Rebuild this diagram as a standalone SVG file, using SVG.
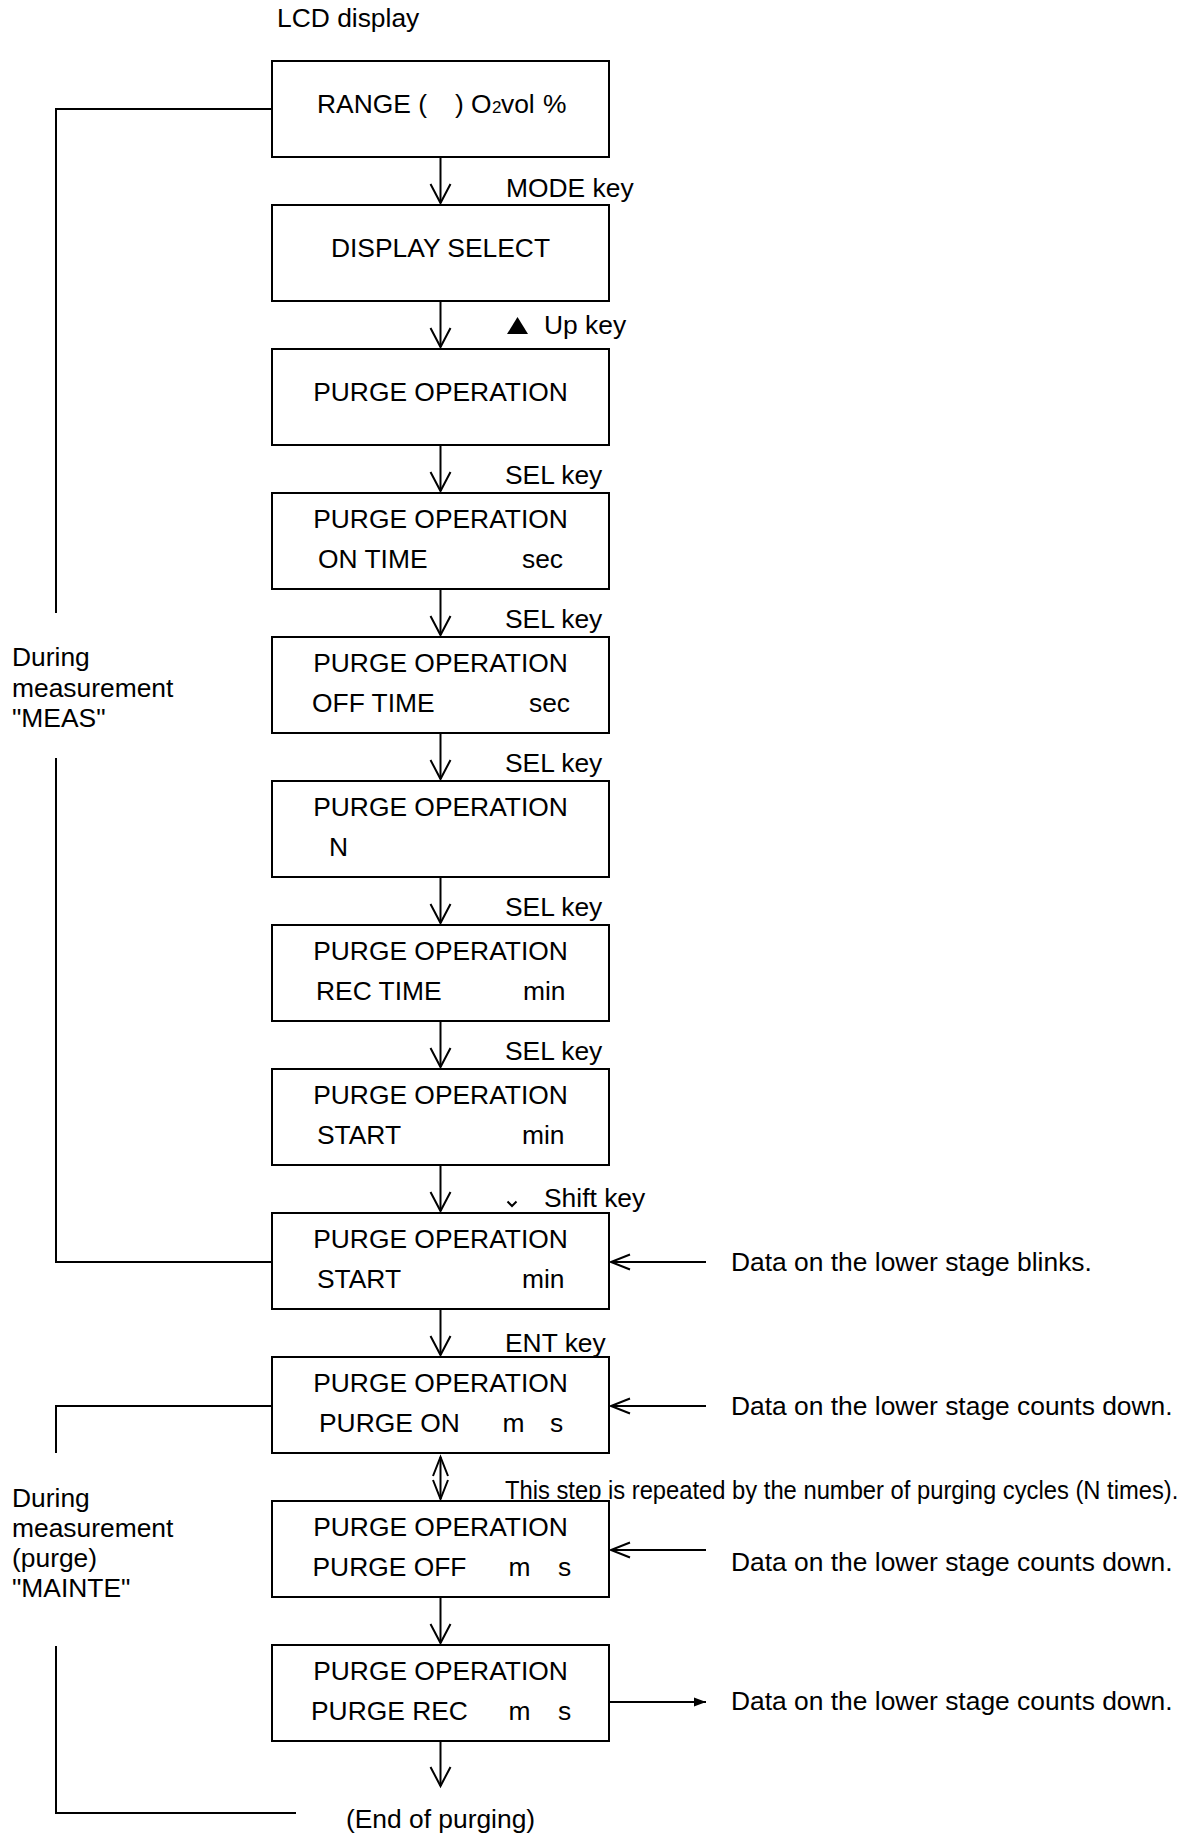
<svg xmlns="http://www.w3.org/2000/svg" width="1188" height="1838" viewBox="0 0 1188 1838">
<style>
text{font-family:"Liberation Sans",Arial,sans-serif;font-size:26.4px;fill:#000}
.box{fill:#fff;stroke:#000;stroke-width:2}
.ln{fill:none;stroke:#000;stroke-width:2}
.mid{text-anchor:middle}
</style>
<defs>
<marker id="open" markerUnits="userSpaceOnUse" viewBox="-2 -2 24 24" markerWidth="24" markerHeight="24" refX="19" refY="10" orient="auto" overflow="visible">
<path d="M0,0 L19,10 L0,20" fill="none" stroke="#000" stroke-width="2"/>
</marker>
<marker id="openS" markerUnits="userSpaceOnUse" viewBox="-2 -2 24 24" markerWidth="24" markerHeight="24" refX="19" refY="7.5" orient="auto-start-reverse" overflow="visible">
<path d="M0,0 L19,7.5 L0,15" fill="none" stroke="#000" stroke-width="2"/>
</marker>
<marker id="fillA" markerUnits="userSpaceOnUse" viewBox="0 0 12 10" markerWidth="12" markerHeight="10" refX="12" refY="4.5" orient="auto" overflow="visible">
<path d="M0,0 L12,4.5 L0,9 Z" fill="#000"/>
</marker>
</defs>
<rect width="1188" height="1838" fill="#fff"/>

<g id="connectors">
<path class="ln" d="M440.5,157 V203" marker-end="url(#open)"/>
<path class="ln" d="M440.5,301 V347" marker-end="url(#open)"/>
<path class="ln" d="M440.5,445 V491" marker-end="url(#open)"/>
<path class="ln" d="M440.5,589 V635" marker-end="url(#open)"/>
<path class="ln" d="M440.5,733 V779" marker-end="url(#open)"/>
<path class="ln" d="M440.5,877 V923" marker-end="url(#open)"/>
<path class="ln" d="M440.5,1021 V1067" marker-end="url(#open)"/>
<path class="ln" d="M440.5,1165 V1211" marker-end="url(#open)"/>
<path class="ln" d="M440.5,1309 V1355" marker-end="url(#open)"/>
<path class="ln" d="M440.5,1457 V1499" marker-start="url(#openS)" marker-end="url(#openS)"/>
<path class="ln" d="M440.5,1597 V1643" marker-end="url(#open)"/>
<path class="ln" d="M440.5,1741 V1786" marker-end="url(#open)"/>
<path class="ln" d="M706,1262 H611" marker-end="url(#openS)"/>
<path class="ln" d="M706,1406 H611" marker-end="url(#openS)"/>
<path class="ln" d="M706,1550 H611" marker-end="url(#openS)"/>
<path class="ln" d="M609,1702 H706" marker-end="url(#fillA)"/>
<path class="ln" d="M272,109 H56 V613"/>
<path class="ln" d="M56,758 V1262 H272"/>
<path class="ln" d="M272,1406 H56 V1453"/>
<path class="ln" d="M56,1646 V1813 H296"/>
</g>

<g id="labels">
<text x="277" y="27">LCD display</text>
<text x="506" y="197">MODE key</text>
<polygon points="507,334 528,334 517.5,317" fill="#000"/>
<text x="544" y="334">Up key</text>
<text x="505" y="483.5">SEL key</text>
<text x="505" y="627.5">SEL key</text>
<text x="505" y="771.5">SEL key</text>
<text x="505" y="915.5">SEL key</text>
<text x="505" y="1059.5">SEL key</text>
<polyline points="507.5,1201.5 512,1206 516.5,1201.5" fill="none" stroke="#000" stroke-width="2"/>
<text x="544" y="1207">Shift key</text>
<text x="505" y="1352">ENT key</text>
<text transform="translate(505,1499) scale(0.9,1)" x="0" y="0">This step is repeated by the number of purging cycles (N times).</text>
<text x="731" y="1271">Data on the lower stage blinks.</text>
<text x="731" y="1415">Data on the lower stage counts down.</text>
<text x="731" y="1571">Data on the lower stage counts down.</text>
<text x="731" y="1710">Data on the lower stage counts down.</text>
<text x="12" y="666">During</text>
<text x="12" y="697">measurement</text>
<text x="12" y="727">"MEAS"</text>
<text x="12" y="1506.5">During</text>
<text x="12" y="1536.5">measurement</text>
<text x="12" y="1566.5">(purge)</text>
<text x="12" y="1597">"MAINTE"</text>
<text x="440.5" y="1828" class="mid">(End of purging)</text>
</g>

<g id="n1"><rect class="box" x="272" y="61" width="337" height="96"/>
<text y="113"><tspan x="317">RANGE (</tspan><tspan x="455">)</tspan><tspan x="471">O</tspan><tspan x="492" font-size="17">2</tspan><tspan x="501">vol</tspan><tspan x="543">%</tspan></text></g>
<g id="n2"><rect class="box" x="272" y="205" width="337" height="96"/>
<text x="440.5" y="257" class="mid">DISPLAY SELECT</text></g>
<g id="n3"><rect class="box" x="272" y="349" width="337" height="96"/>
<text x="440.5" y="401" class="mid">PURGE OPERATION</text></g>
<g id="n4"><rect class="box" x="272" y="493" width="337" height="96"/>
<text x="440.5" y="528" class="mid">PURGE OPERATION</text>
<text x="318" y="568">ON TIME</text><text x="522" y="568">sec</text></g>
<g id="n5"><rect class="box" x="272" y="637" width="337" height="96"/>
<text x="440.5" y="672" class="mid">PURGE OPERATION</text>
<text x="312" y="712">OFF TIME</text><text x="529" y="712">sec</text></g>
<g id="n6"><rect class="box" x="272" y="781" width="337" height="96"/>
<text x="440.5" y="816" class="mid">PURGE OPERATION</text>
<text x="329" y="856">N</text></g>
<g id="n7"><rect class="box" x="272" y="925" width="337" height="96"/>
<text x="440.5" y="960" class="mid">PURGE OPERATION</text>
<text x="316" y="1000">REC TIME</text><text x="523" y="1000">min</text></g>
<g id="n8"><rect class="box" x="272" y="1069" width="337" height="96"/>
<text x="440.5" y="1104" class="mid">PURGE OPERATION</text>
<text x="317" y="1144">START</text><text x="522" y="1144">min</text></g>
<g id="n9"><rect class="box" x="272" y="1213" width="337" height="96"/>
<text x="440.5" y="1248" class="mid">PURGE OPERATION</text>
<text x="317" y="1288">START</text><text x="522" y="1288">min</text></g>
<g id="n10"><rect class="box" x="272" y="1357" width="337" height="96"/>
<text x="440.5" y="1392" class="mid">PURGE OPERATION</text>
<text x="319" y="1432">PURGE ON</text><text x="502.5" y="1432">m</text><text x="550" y="1432">s</text></g>
<g id="n11"><rect class="box" x="272" y="1501" width="337" height="96"/>
<text x="440.5" y="1536" class="mid">PURGE OPERATION</text>
<text x="312.5" y="1576">PURGE OFF</text><text x="508.5" y="1576">m</text><text x="558" y="1576">s</text></g>
<g id="n12"><rect class="box" x="272" y="1645" width="337" height="96"/>
<text x="440.5" y="1680" class="mid">PURGE OPERATION</text>
<text x="311" y="1720">PURGE REC</text><text x="508.5" y="1720">m</text><text x="558" y="1720">s</text></g>
</svg>
